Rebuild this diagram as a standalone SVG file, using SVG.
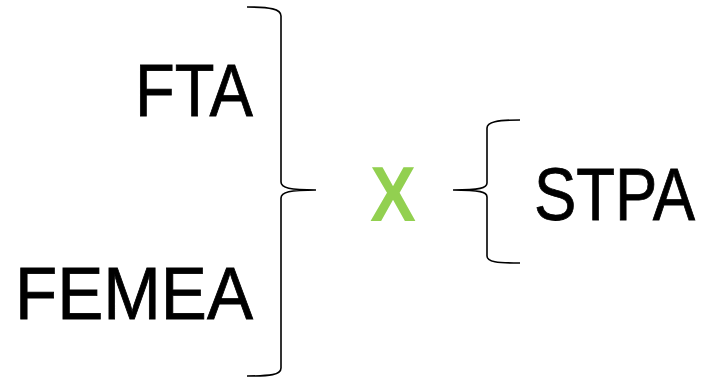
<svg xmlns="http://www.w3.org/2000/svg" width="707" height="380" viewBox="0 0 707 380">
  <style>
    .lbl { font-family: "Liberation Sans", Arial, sans-serif; font-size: 74px; fill: #000; stroke: #000; stroke-width: 0.8; }
    .op { font-family: "Liberation Sans", Arial, sans-serif; font-size: 78px; font-weight: bold; fill: #92D050; }
    .brace { fill: none; stroke: #000; stroke-width: 1.6; }
  </style>
  <rect width="707" height="380" fill="#fff"/>
  <g id="fta"><text class="lbl" x="135" y="116" textLength="118" lengthAdjust="spacingAndGlyphs">FTA</text></g>
  <g id="femea"><text class="lbl" x="15" y="319" textLength="238" lengthAdjust="spacingAndGlyphs">FEMEA</text></g>
  <g id="cross"><text class="op" x="370" y="221" textLength="46" lengthAdjust="spacingAndGlyphs">X</text></g>
  <g id="stpa"><text class="lbl" x="695" y="220" text-anchor="end" textLength="161" lengthAdjust="spacingAndGlyphs">STPA</text></g>
  <g id="connectors">
    <!-- left brace grouping FTA and FEMEA -->
    <path class="brace" d="M247,7 C270,7 281,9 281,16 L281,182 C281,188 290,190 316,190 C290,190 281,192 281,198 L281,368 C281,375 270,376 247,376"/>
    <!-- right brace opening STPA -->
    <path class="brace" d="M520,120 C497,120 487,122 487,128 L487,183 C487,188 480,190 453,190 C480,190 487,192 487,197 L487,256 C487,262 497,263 520,263"/>
  </g>
</svg>
